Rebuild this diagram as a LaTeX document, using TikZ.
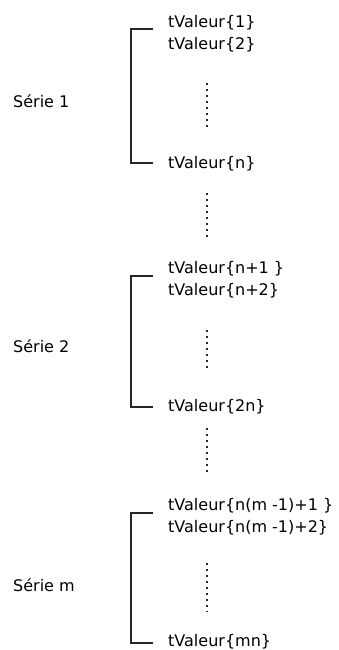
\documentclass[tikz,border=0pt]{standalone}
\usepackage{fontspec}
\setmainfont{DejaVu Sans}
\begin{document}
\begin{tikzpicture}[x=1pt,y=-1pt,
  val/.style={anchor=base west,inner sep=0pt,font=\fontsize{16}{19}\selectfont},
  serie/.style={anchor=base west,inner sep=0pt,font=\fontsize{16}{19}\selectfont},
  brk/.style={draw=black!85,line width=1.4pt},
  dotsline/.style={draw=black!85,line width=1.6pt,dash pattern=on 1.6pt off 4.4pt}]
\useasboundingbox (0,0) rectangle (339,650);
% Serie 1
\node[serie] (s1) at (13,107) {Série 1};
\node[val] (v11) at (168,28) {tValeur\{1\}};
\node[val] (v12) at (168,50) {tValeur\{2\}};
\node[val] (v1n) at (168,168) {tValeur\{n\}};
\coordinate (b1t) at (153,29);
\coordinate (b1b) at (153,163);
\draw[brk] (b1t) -- ++(-22,0) |- (b1b);
\coordinate (d1a) at (207,83);
\coordinate (d1b) at (207,130);
\draw[dotsline] (d1a) -- (d1b);
\coordinate (e1a) at (207,193);
\coordinate (e1b) at (207,240);
\draw[dotsline] (e1a) -- (e1b);
% Serie 2
\node[serie] (s2) at (13,352) {Série 2};
\node[val] (v21) at (168,273) {tValeur\{n+1 \}};
\node[val] (v22) at (168,295) {tValeur\{n+2\}};
\node[val] (v2n) at (168,411) {tValeur\{2n\}};
\coordinate (b2t) at (153,276);
\coordinate (b2b) at (153,407);
\draw[brk] (b2t) -- ++(-22,0) |- (b2b);
\coordinate (d2a) at (207,330);
\coordinate (d2b) at (207,371);
\draw[dotsline] (d2a) -- (d2b);
\coordinate (e2a) at (207,428);
\coordinate (e2b) at (207,475);
\draw[dotsline] (e2a) -- (e2b);
% Serie m
\node[serie] (sm) at (13,591) {Série m};
\node[val] (vm1) at (168,510) {tValeur\{n(m -1)+1 \}};
\node[val] (vm2) at (168,532) {tValeur\{n(m -1)+2\}};
\node[val] (vmn) at (168,646) {tValeur\{mn\}};
\coordinate (bmt) at (153,513);
\coordinate (bmb) at (153,643);
\draw[brk] (bmt) -- ++(-22,0) |- (bmb);
\coordinate (dma) at (207,563);
\coordinate (dmb) at (207,612);
\draw[dotsline] (dma) -- (dmb);
\end{tikzpicture}
\end{document}
